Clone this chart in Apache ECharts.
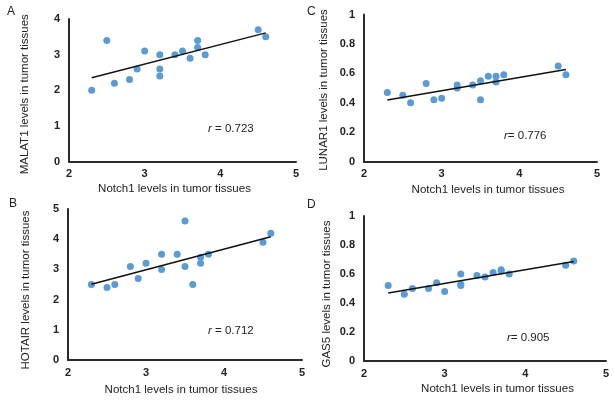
<!DOCTYPE html>
<html>
<head>
<meta charset="utf-8">
<script src="https://cdn.jsdelivr.net/npm/echarts@6/dist/echarts.min.js"></script>
<style>
html,body{margin:0;padding:0;background:#fff;}
#chart{width:615px;height:401px;}
</style>
</head>
<body>
<div id="chart"></div>
<script>
// Panel A: MALAT1
const notchA = [2.3,2.5,2.6,2.8,2.9,3.0,3.2,3.2,3.2,3.4,3.5,3.6,3.7,3.7,3.8,4.5,4.6];
const malat1 = [2.0,3.4,2.2,2.3,2.6,3.1,3.0,2.6,2.4,3.0,3.1,2.9,3.4,3.2,3.0,3.7,3.5];
const trendA = [[2.3,2.35],[4.6,3.61]];
// Panel B: HOTAIR
const notchB = [2.3,2.5,2.6,2.8,2.9,3.0,3.2,3.2,3.4,3.5,3.5,3.6,3.7,3.7,3.8,4.5,4.6];
const hotair = [2.5,2.4,2.5,3.1,2.7,3.2,3.5,3.0,3.5,4.6,3.1,2.5,3.4,3.2,3.5,3.9,4.2];
const trendB = [[2.3,2.51],[4.6,4.08]];
// Panel C: LUNAR1
const notchC = [2.3,2.5,2.6,2.8,2.9,3.0,3.2,3.2,3.4,3.5,3.5,3.6,3.7,3.7,3.8,4.5,4.6];
const lunar1 = [0.47,0.45,0.40,0.53,0.42,0.43,0.52,0.50,0.52,0.55,0.42,0.58,0.58,0.54,0.59,0.65,0.59];
const trendC = [[2.3,0.418],[4.6,0.626]];
// Panel D: GAS5
const notchD = [2.3,2.5,2.6,2.8,2.9,3.0,3.2,3.2,3.2,3.4,3.5,3.6,3.7,3.7,3.8,4.5,4.6];
const gas5 = [0.52,0.46,0.50,0.50,0.54,0.48,0.60,0.53,0.52,0.59,0.58,0.61,0.63,0.62,0.60,0.66,0.69];
const trendD = [[2.3,0.469],[4.6,0.686]];

const xName = 'Notch1 levels in tumor tissues';
const yNames = ['MALAT1 levels in tumor tissues','HOTAIR levels in tumor tissues','LUNAR1 levels in tumor tissues','GAS5 levels in tumor tissues'];
const rTexts = ['0.723','0.712','0.776','0.905'];
const panelLetters = ['A','B','C','D'];

const pts = (xs, ys) => xs.map((x, i) => [x, ys[i]]);

const panels = [
  {grid:{left:69,top:19,width:227,height:142.5}, yMax:4, yInt:1, data:pts(notchA,malat1), trend:trendA, xPad:[0,16,0,0], yPad:[0,8,0,0], nameGap:21, yGap:38},
  {grid:{left:68,top:209,width:234,height:151}, yMax:5, yInt:1, data:pts(notchB,hotair), trend:trendB, xPad:[0,8,0,0], yPad:[0,11,0,0], nameGap:23.5, yGap:36},
  {grid:{left:364,top:14.5,width:233,height:147}, yMax:1, yInt:0.2, data:pts(notchC,lunar1), trend:trendC, xPad:[0,0,0,15], yPad:[0,4,0,0], nameGap:22.5, yGap:34},
  {grid:{left:364,top:216,width:242,height:145}, yMax:1, yInt:0.2, data:pts(notchD,gas5), trend:trendD, xPad:[0,0,0,25], yPad:[0,11,0,0], nameGap:22, yGap:31}
];

const font = "'Liberation Sans', Arial, sans-serif";
const grids = [], xAxes = [], yAxes = [], series = [];
panels.forEach((p, i) => {
  grids.push(p.grid);
  xAxes.push({
    type:'value', gridIndex:i, min:2, max:5, interval:1,
    name:xName, nameLocation:'middle', nameGap:p.nameGap,
    nameTextStyle:{fontFamily:font, fontSize:11.5, color:'#222', padding:p.xPad},
    axisLine:{show:true, onZero:false, lineStyle:{color:'#2a2a2a', width:2}},
    axisTick:{show:false}, splitLine:{show:false},
    axisLabel:{fontFamily:font, fontSize:11, color:'#222', margin:7, fontWeight:'bold'}
  });
  yAxes.push({
    type:'value', gridIndex:i, min:0, max:p.yMax, interval:p.yInt,
    name:yNames[i], nameLocation:'middle', nameGap:p.yGap, nameRotate:90,
    nameTextStyle:{fontFamily:font, fontSize:11.5, color:'#222', padding:p.yPad},
    axisLine:{show:true, lineStyle:{color:'#2a2a2a', width:2}},
    axisTick:{show:false}, splitLine:{show:false},
    axisLabel:{fontFamily:font, fontSize:11, color:'#222', margin:9, fontWeight:'bold'}
  });
  series.push({
    type:'scatter', xAxisIndex:i, yAxisIndex:i, data:p.data,
    symbolSize:7, itemStyle:{color:'#5b9bd5', opacity:1}, z:2
  });
  series.push({
    type:'line', xAxisIndex:i, yAxisIndex:i, data:p.trend,
    showSymbol:false, symbol:'none', lineStyle:{color:'#111', width:1.5}, z:3, silent:true
  });
});

const rPos = [[208,130,' = '],[208,332,' = '],[504,137,'= '],[507,339,'= ']];
const letterPos = [[7,13],[9,205],[307,13],[307,206]];
const graphics = [];
[0,1,2,3].forEach(i => {
  graphics.push({
    type:'text', left:rPos[i][0], top:rPos[i][1]-7,
    style:{
      text:'{i|r}' + rPos[i][2] + rTexts[i],
      rich:{i:{fontStyle:'italic', fontFamily:font, fontSize:11.5, fill:'#222'}},
      font:"11.5px 'Liberation Sans', Arial, sans-serif", fill:'#222'
    }
  });
  graphics.push({
    type:'text', left:letterPos[i][0], top:letterPos[i][1]-7,
    style:{text:panelLetters[i], font:"12px 'Liberation Sans', Arial, sans-serif", fill:'#222'}
  });
});

const chart = echarts.init(document.getElementById('chart'), null, {renderer:'canvas'});
chart.setOption({
  animation:false,
  backgroundColor:'#fff',
  grid:grids, xAxis:xAxes, yAxis:yAxes, series:series,
  graphic:graphics
});
</script>
</body>
</html>
